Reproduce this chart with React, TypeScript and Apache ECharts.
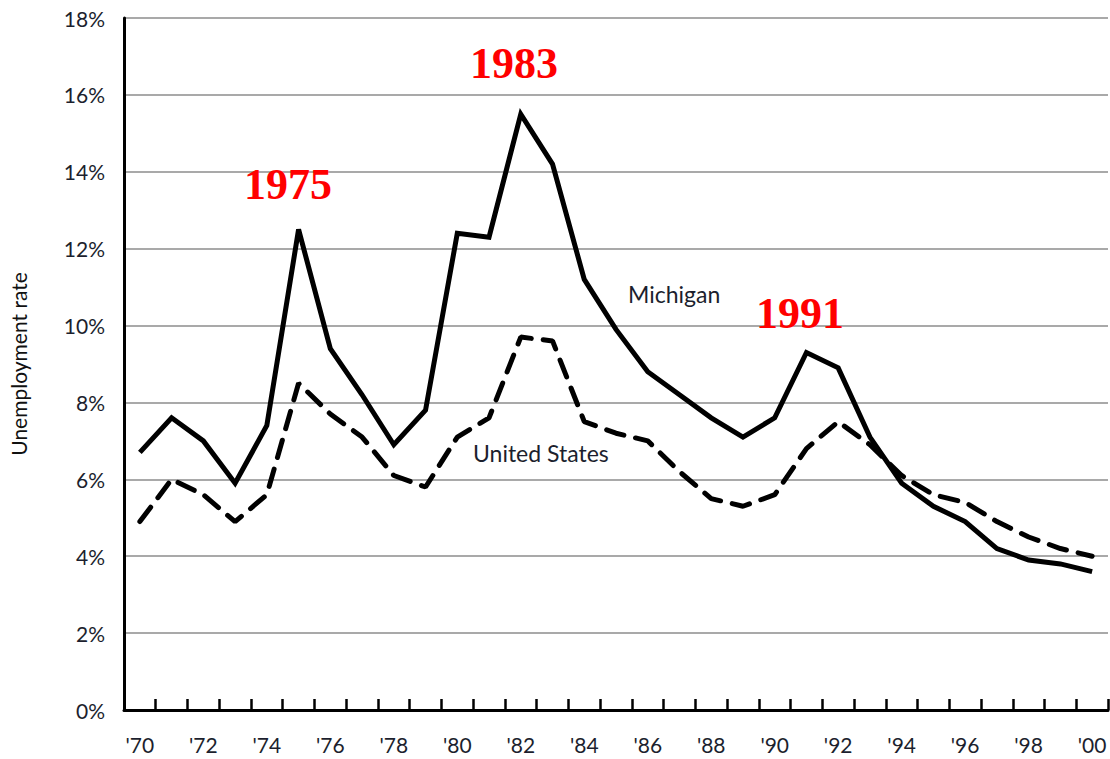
import React, { useEffect, useRef } from "react";
import * as echarts from "echarts";

const years = [
  "1970","1971","1972","1973","1974","1975","1976","1977","1978","1979",
  "1980","1981","1982","1983","1984","1985","1986","1987","1988","1989",
  "1990","1991","1992","1993","1994","1995","1996","1997","1998","1999","2000",
];
const michigan = [
  6.7, 7.6, 7.0, 5.9, 7.4, 12.5, 9.4, 8.2, 6.9, 7.8,
  12.4, 12.3, 15.5, 14.2, 11.2, 9.9, 8.8, 8.2, 7.6, 7.1,
  7.6, 9.3, 8.9, 7.1, 5.9, 5.3, 4.9, 4.2, 3.9, 3.8, 3.6,
];
const unitedStates = [
  4.9, 6.0, 5.6, 4.9, 5.6, 8.5, 7.7, 7.1, 6.1, 5.8,
  7.1, 7.6, 9.7, 9.6, 7.5, 7.2, 7.0, 6.2, 5.5, 5.3,
  5.6, 6.8, 7.5, 6.9, 6.1, 5.6, 5.4, 4.9, 4.5, 4.2, 4.0,
];
const annotations = [
  { text: "1975", x: 288, y: 184 },
  { text: "1983", x: 514, y: 63 },
  { text: "1991", x: 800, y: 313 },
];
const seriesLabels = [
  { text: "Michigan", x: 628, y: 294 },
  { text: "United States", x: 473, y: 453 },
];

export default function App() {
  const ref = useRef<HTMLDivElement>(null);
  useEffect(() => {
    if (!ref.current) return;
    const chart = echarts.init(ref.current, null, { renderer: "svg" });
    const textColor = "#1c1f2e";
    const font = "Lato";
    chart.setOption({
      animation: false,
      backgroundColor: "#ffffff",
      grid: { left: 119, right: 2, top: 18, bottom: 49, containLabel: false },
      xAxis: {
        type: "category",
        data: years,
        boundaryGap: true,
        axisLine: { show: true, lineStyle: { color: "#000", width: 3 } },
        axisTick: {
          show: true,
          inside: true,
          length: 11,
          interval: 0,
          lineStyle: { color: "#000", width: 2.5 },
        },
        axisLabel: {
          interval: 1,
          margin: 24,
          fontSize: 21,
          fontFamily: font,
          color: textColor,
          formatter: (v: string) => "'" + v.slice(2),
        },
        splitLine: { show: false },
      },
      yAxis: {
        type: "value",
        min: 0,
        max: 18,
        interval: 2,
        name: "Unemployment rate",
        nameLocation: "middle",
        nameGap: 95,
        nameTextStyle: { fontSize: 21, fontFamily: font, color: "#111" },
        axisLine: { show: true, lineStyle: { color: "#000", width: 3 } },
        axisTick: { show: false },
        axisLabel: {
          margin: 19,
          fontSize: 21,
          fontFamily: font,
          color: textColor,
          formatter: (v: number) => v + "%",
        },
        splitLine: { show: true, lineStyle: { color: "#8c8c8c", width: 1.5 } },
      },
      series: [
        {
          name: "Michigan",
          type: "line",
          data: michigan,
          symbol: "none",
          lineStyle: { color: "#000", width: 5, join: "miter" },
          z: 3,
        },
        {
          name: "United States",
          type: "line",
          data: unitedStates,
          symbol: "none",
          lineStyle: { color: "#000", width: 5, type: [18, 12], cap: "round" },
          z: 2,
        },
      ],
      graphic: [
        ...annotations.map((a) => ({
          type: "text",
          x: a.x,
          y: a.y,
          style: {
            text: a.text,
            fill: "#ff0000",
            font: "bold 44px 'Liberation Serif', serif",
            align: "center",
            verticalAlign: "middle",
          },
          z: 10,
        })),
        ...seriesLabels.map((l) => ({
          type: "text",
          x: l.x,
          y: l.y,
          style: {
            text: l.text,
            fill: textColor,
            font: "23px Lato",
            align: "left",
            verticalAlign: "middle",
          },
          z: 10,
        })),
      ],
    });
    return () => chart.dispose();
  }, []);
  return (
    <div
      ref={ref}
      style={{ position: "fixed", left: 0, top: 0, width: 1110, height: 759 }}
    />
  );
}
